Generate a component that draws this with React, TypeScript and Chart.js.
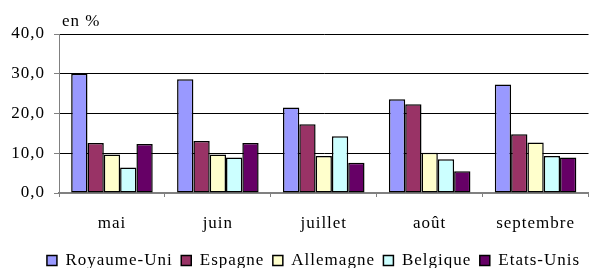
import React, { useEffect, useRef } from "react";
import { Chart, registerables } from "chart.js";

Chart.register(...registerables);

const categories = ["mai", "juin", "juillet", "août", "septembre"];
const seriesNames = ["Royaume-Uni", "Espagne", "Allemagne", "Belgique", "Etats-Unis"];
const royaumeUni = [30.0, 28.6, 21.5, 23.6, 27.3];
const espagne = [12.6, 13.1, 17.3, 22.3, 14.8];
const allemagne = [9.7, 9.7, 9.3, 10.1, 12.7];
const belgique = [6.4, 8.9, 14.3, 8.5, 9.3];
const etatsUnis = [12.3, 12.6, 7.6, 5.5, 8.9];
const seriesColors = ["#9999FF", "#993366", "#FFFFCC", "#CCFFFF", "#660066"];
const unitLabel = "en %";

const FONT = "'Liberation Serif', 'Times New Roman', serif";
Chart.defaults.font.family = FONT;

export default function App() {
  const ref = useRef<HTMLCanvasElement | null>(null);
  useEffect(() => {
    document.body.style.margin = "0";
    const values = [royaumeUni, espagne, allemagne, belgique, etatsUnis];
    const spacingPlugin = {
      id: "letterSpacing",
      beforeUpdate(chart: any) {
        chart.ctx.letterSpacing = "1px";
      },
      beforeDraw(chart: any) {
        chart.ctx.letterSpacing = "1px";
      },
      afterLayout(chart: any) {
        const lg = chart.legend;
        if (lg) {
          lg.left += 16;
          lg.right += 16;
          lg.top += 11;
          lg.bottom += 11;
        }
      },
    };
    const unitPlugin = {
      id: "unitLabel",
      afterDraw(chart: any) {
        const { ctx, chartArea } = chart;
        ctx.save();
        ctx.letterSpacing = "1px";
        ctx.font = `17px ${FONT}`;
        ctx.fillStyle = "#000";
        ctx.textBaseline = "alphabetic";
        ctx.textAlign = "left";
        ctx.fillText(unitLabel, chartArea.left + 3, chartArea.top - 8);
        ctx.restore();
      },
    };
    const chart = new Chart(ref.current!, {
      type: "bar",
      data: {
        labels: categories,
        datasets: seriesNames.map((name, i) => ({
          label: name,
          data: values[i],
          backgroundColor: seriesColors[i],
          borderColor: "#000",
          borderWidth: 1.5,
          borderSkipped: false,
          categoryPercentage: 0.77,
          barPercentage: 1.0,
        })),
      },
      options: {
        animation: false,
        responsive: false,
        maintainAspectRatio: false,
        layout: { padding: { top: 34, left: 0, right: -4, bottom: 0 } },
        plugins: {
          tooltip: { enabled: false },
          legend: {
            position: "bottom",
            labels: {
              font: { family: FONT, size: 17 },
              color: "#000",
              boxWidth: 10,
              boxHeight: 10,
              padding: 8.5,
            },
          },
        },
        scales: {
          x: {
            offset: true,
            afterFit(scale: any) {
              scale.height = 39.5;
            },
            grid: {
              offset: true,
              drawOnChartArea: false,
              drawTicks: true,
              tickLength: 4,
              color: "#808080",
            },
            border: { color: "#808080", width: 2 },
            ticks: {
              font: { family: FONT, size: 17 },
              color: "#000",
              padding: 16,
              maxRotation: 0,
            },
          },
          y: {
            min: 0,
            max: 40,
            afterFit(scale: any) {
              scale.width = 59;
            },
            ticks: {
              stepSize: 10,
              font: { family: FONT, size: 17 },
              color: "#000",
              padding: 9,
              callback: (v: any) => Number(v).toFixed(1).replace(".", ","),
            },
            grid: {
              color: "#000",
              lineWidth: 1,
              tickLength: 5,
              tickColor: "#808080",
            },
            border: { color: "#808080", width: 1 },
          },
        },
      },
      plugins: [spacingPlugin, unitPlugin],
    });
    return () => chart.destroy();
  }, []);
  return (
    <div style={{ position: "absolute", left: 0, top: 0, width: 591, height: 268 }}>
      <canvas ref={ref} width={591} height={268} style={{ width: 591, height: 268 }} />
    </div>
  );
}
